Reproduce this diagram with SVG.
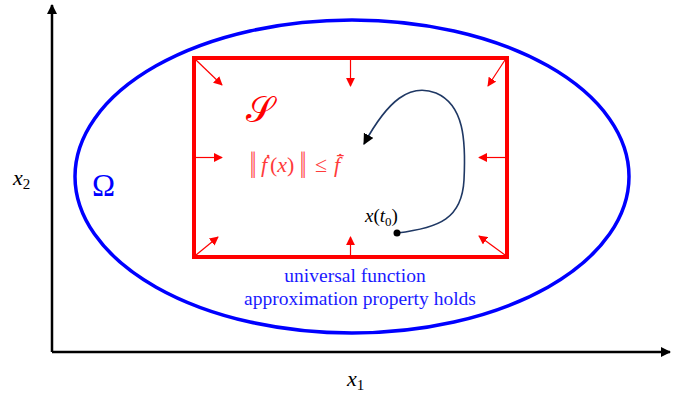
<svg xmlns="http://www.w3.org/2000/svg" width="692" height="397" viewBox="0 0 692 397">
<defs>
<marker id="ah" viewBox="0 0 10 10" refX="9" refY="5" markerWidth="10" markerHeight="10" markerUnits="userSpaceOnUse" orient="auto"><path d="M0,0 L10,5 L0,10 z" fill="#000"/></marker>
<marker id="ra" viewBox="0 0 10 10" refX="9" refY="5" markerWidth="9" markerHeight="9" markerUnits="userSpaceOnUse" orient="auto"><path d="M0,0 L10,5 L0,10 z" fill="#ff0000"/></marker>
<marker id="ta" viewBox="0 0 10 10" refX="9" refY="5" markerWidth="11" markerHeight="11" markerUnits="userSpaceOnUse" orient="auto"><path d="M0,0 L10,5 L0,10 z" fill="#000"/></marker>
</defs>
<style>
.axis{stroke:#000;stroke-width:2.5;fill:none}
.ra{stroke:#ff0000;stroke-width:1.2;marker-end:url(#ra)}
.math{font-family:"Liberation Serif","DejaVu Serif",serif}
.fm{font-family:"Liberation Serif","DejaVu Serif",serif;fill:#ff3b3b;font-size:22px}
.blue{fill:#1a1aff;font-family:"Liberation Serif",serif;font-size:19.5px;text-anchor:middle}
</style>
<rect width="692" height="397" fill="#fff"/>
<g id="axes">
<path class="axis" d="M52,352 L52,5" marker-end="url(#ah)"/>
<path class="axis" d="M52,352 L670,352" marker-end="url(#ah)"/>
</g>
<g id="omega">
<ellipse cx="352" cy="176.5" rx="277" ry="156.5" fill="none" stroke="#0000ff" stroke-width="3.5"/>
<text x="92" y="196" class="math" font-size="31" fill="#0000ff">Ω</text>
</g>
<g id="setS">
<rect x="194" y="58" width="313" height="199" fill="none" stroke="#ff0000" stroke-width="4"/>
<text x="246" y="122" font-family="DejaVu Serif, serif" font-size="36" fill="#ff0000">𝒮</text>
<g id="formula">
<text class="fm" transform="translate(250,178) scale(1,1.7)" font-size="22">‖</text>
<text class="fm" x="261" y="172" font-style="italic">ḟ</text>
<text class="fm" x="270" y="172"><tspan>(</tspan><tspan font-style="italic">x</tspan><tspan>)</tspan></text>
<text class="fm" transform="translate(300,178) scale(1,1.7)" font-size="22">‖</text>
<text class="fm" x="315" y="172">≤</text>
<text class="fm" x="334" y="172" font-style="italic">f̄̇</text>
</g>
</g>
<g id="connectors">
<line class="ra" x1="196" y1="60" x2="222" y2="85"/>
<line class="ra" x1="350.5" y1="60" x2="350.5" y2="86"/>
<line class="ra" x1="505" y1="60" x2="488" y2="86"/>
<line class="ra" x1="196" y1="157.5" x2="222" y2="157.5"/>
<line class="ra" x1="505" y1="157.5" x2="479" y2="157.5"/>
<line class="ra" x1="196" y1="255" x2="218" y2="237"/>
<line class="ra" x1="350.5" y1="255" x2="350.5" y2="237"/>
<line class="ra" x1="505" y1="255" x2="479" y2="236"/>
<path d="M397,233 C440,228 462,218 464,180 C466,140 464,105 436,93 C410,83 388,100 364,144" fill="none" stroke="#1f3864" stroke-width="1.6" marker-end="url(#ta)"/>
</g>
<g id="x0">
<circle cx="397" cy="233" r="3.5" fill="#000"/>
<text x="365" y="222" class="math" font-size="19" fill="#000"><tspan font-style="italic">x</tspan>(<tspan font-style="italic">t</tspan><tspan font-size="13" dy="4">0</tspan><tspan dy="-4">)</tspan></text>
</g>
<text x="355" y="282" class="blue">universal function</text>
<text x="360" y="305" class="blue">approximation property holds</text>
<text x="13" y="185" class="math" font-size="22" font-style="italic" fill="#000">x<tspan font-style="normal" font-size="15" dy="4">2</tspan></text>
<text x="347" y="386" class="math" font-size="22" font-style="italic" fill="#000">x<tspan font-style="normal" font-size="15" dy="4">1</tspan></text>
</svg>
